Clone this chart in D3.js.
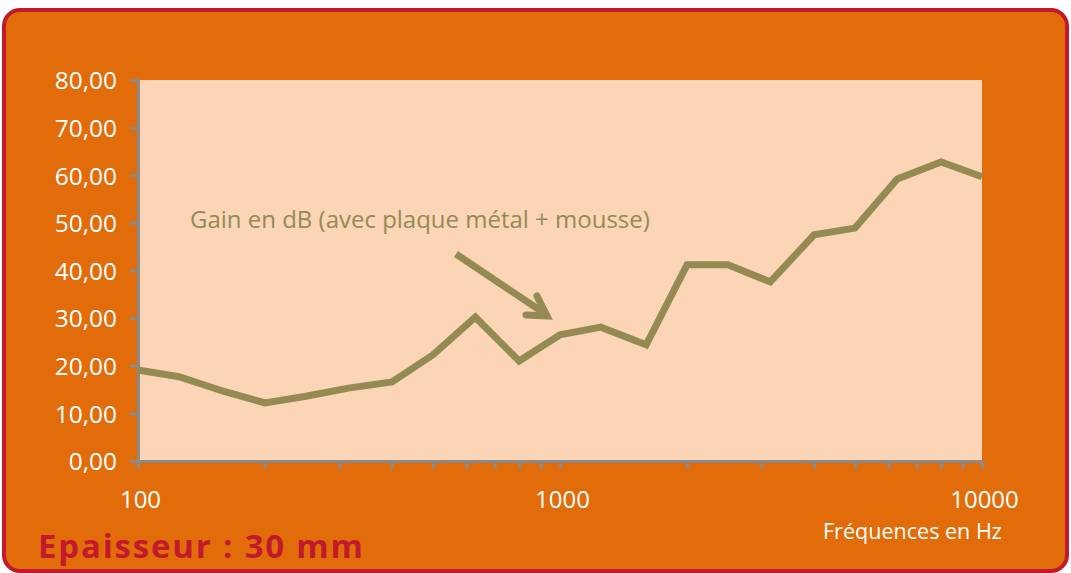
<!DOCTYPE html>
<html>
<head>
<meta charset="utf-8">
<script src="https://cdn.jsdelivr.net/npm/d3@7"></script>
<style>
  html, body { margin: 0; padding: 0; background: #fff; }
  svg { display: block; }
  text { font-family: "Open Sans", sans-serif; }
</style>
</head>
<body>
<svg id="graphique" width="1071" height="573"></svg>
<script>
// fréquences en tiers d'octave
var frequences = [100, 125, 160, 200, 250, 315, 400, 500, 630, 800, 1000, 1250, 1600, 2000, 2500, 3150, 4000, 5000, 6300, 8000, 10000];
// gain en dB
var gain = [19.1, 17.7, 14.6, 12.2, 13.6, 15.3, 16.6, 22.3, 30.2, 21.0, 26.5, 28.1, 24.4, 41.2, 41.2, 37.6, 47.5, 48.9, 59.2, 62.8, 59.7];
var yTicks = [0, 10, 20, 30, 40, 50, 60, 70, 80];
var xLabels = [100, 1000, 10000];
var xMinorTicks = [100, 200, 300, 400, 500, 600, 700, 800, 900, 1000, 2000, 3000, 4000, 5000, 6000, 7000, 8000, 9000, 10000];

var svg = d3.select('#graphique');

var orange = '#e36c0a';
var rouge = '#c21a2c';
var olive = '#948b54';
var gris = '#8a8a8a';

// ajuste la taille de police pour une largeur donnée
function ajusteLargeur(sel, largeur) {
  var fs = parseFloat(sel.attr('font-size'));
  var l = sel.node().getComputedTextLength();
  if (l > 0) sel.attr('font-size', fs * largeur / l);
}

// ajuste l'espace entre les lettres
function ajusteLettres(sel, largeur) {
  var l = sel.node().getComputedTextLength();
  var n = sel.text().length - 1;
  if (n > 0) sel.attr('letter-spacing', (largeur - l) / n);
}

// cadre arrondi
svg.append('rect')
  .attr('x', 4).attr('y', 10)
  .attr('width', 1063).attr('height', 561)
  .attr('rx', 16).attr('ry', 16)
  .attr('fill', orange)
  .attr('stroke', rouge)
  .attr('stroke-width', 4);

var x = d3.scaleLog().domain([100, 10000]).range([138, 982]);
var y = d3.scaleLinear().domain([0, 80]).range([461, 80]);

// fond du graphique
svg.append('rect')
  .attr('x', x(100)).attr('y', y(80))
  .attr('width', x(10000) - x(100))
  .attr('height', y(0) - y(80))
  .attr('fill', '#fbd5b5');

// axe Y
var axeY = d3.axisLeft(y)
  .tickValues(yTicks)
  .tickSize(8)
  .tickPadding(13)
  .tickFormat(d => d3.format('.2f')(d).replace('.', ','));

var gY = svg.append('g')
  .attr('transform', 'translate(' + x(100) + ',0)')
  .call(axeY);
gY.select('.domain').attr('stroke', gris).attr('stroke-width', 3);
gY.selectAll('.tick line').attr('stroke', gris).attr('stroke-width', 3);
gY.selectAll('.tick text')
  .attr('fill', '#fff')
  .attr('font-size', 24.5)
  .attr('dy', '0.36em')
  .style('font-family', '"Open Sans", sans-serif');

// axe X
var axeX = d3.axisBottom(x)
  .tickValues(xMinorTicks)
  .tickSize(8)
  .tickSizeOuter(0)
  .tickFormat(d => xLabels.includes(d) ? d : '');

var gX = svg.append('g')
  .attr('transform', 'translate(0,' + y(0) + ')')
  .call(axeX);
gX.select('.domain').attr('stroke', gris).attr('stroke-width', 3);
gX.selectAll('.tick line').attr('stroke', gris).attr('stroke-width', 3);
gX.selectAll('.tick text')
  .attr('fill', '#fff')
  .attr('font-size', 24)
  .attr('y', 30)
  .attr('dx', 2)
  .attr('dy', '0.71em')
  .style('font-family', '"Open Sans", sans-serif');

// courbe
var ligne = d3.line()
  .x((d, i) => x(frequences[i]))
  .y(d => y(d));

svg.append('path')
  .datum(gain)
  .attr('d', ligne)
  .attr('fill', 'none')
  .attr('stroke', olive)
  .attr('stroke-width', 7)
  .attr('stroke-linejoin', 'miter');

// annotation + flèche
var annot = svg.append('text')
  .attr('x', 190).attr('y', 228)
  .attr('fill', olive)
  .attr('font-size', 22)
  .text('Gain en dB (avec plaque métal + mousse)');
ajusteLargeur(annot, 460);

svg.append('line')
  .attr('x1', 456).attr('y1', 254)
  .attr('x2', 544).attr('y2', 313)
  .attr('stroke', olive).attr('stroke-width', 7);
svg.append('path')
  .attr('d', 'M 537 296 L 547 316 L 526 315')
  .attr('fill', 'none')
  .attr('stroke', olive)
  .attr('stroke-width', 7)
  .attr('stroke-linecap', 'round')
  .attr('stroke-linejoin', 'miter');

// titres
var freq = svg.append('text')
  .attr('x', 823).attr('y', 539)
  .attr('fill', '#fff')
  .attr('font-size', 20)
  .text('Fréquences en Hz');
ajusteLargeur(freq, 179);

var ep = svg.append('text')
  .attr('x', 38).attr('y', 558)
  .attr('fill', rouge)
  .attr('font-size', 33)
  .attr('font-weight', 'bold')
  .text('Epaisseur : 30 mm');
ajusteLettres(ep, 325);
</script>
</body>
</html>
